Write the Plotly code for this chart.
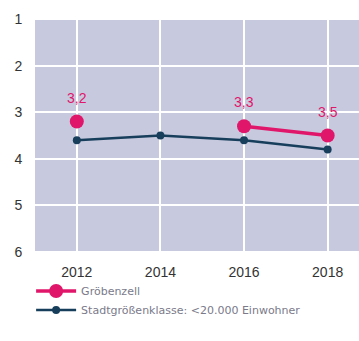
import plotly.graph_objects as go

years = [2012, 2014, 2016, 2018]
groebenzell = [3.2, None, 3.3, 3.5]
groebenzell_labels = ["3,2", "", "3,3", "3,5"]
stadt = [3.6, 3.5, 3.6, 3.8]
y_ticks = [1, 2, 3, 4, 5, 6]

pink = "#e0166a"
navy = "#173f5c"

fig = go.Figure()
fig.add_trace(go.Scatter(
    x=years, y=groebenzell, mode="lines+markers",
    name="Gröbenzell",
    line=dict(color=pink, width=3.5), marker=dict(color=pink, size=14),
    connectgaps=False,
))
fig.add_trace(go.Scatter(
    x=years, y=stadt, mode="lines+markers",
    name="Stadtgrößenklasse: <20.000 Einwohner",
    line=dict(color=navy, width=2.5), marker=dict(color=navy, size=8),
))
for x, y, t in zip(years, groebenzell, groebenzell_labels):
    if y is not None and t:
        fig.add_annotation(x=x, y=y, text=t, showarrow=False, yanchor="bottom",
                           yshift=14, font=dict(color=pink, size=14, family="Liberation Sans"))

fig.update_layout(
    width=359, height=341,
    margin=dict(l=35, r=0, t=18, b=88),
    paper_bgcolor="white", plot_bgcolor="#c7c9de",
    font=dict(family="Liberation Sans", color="#333333"),
    showlegend=True,
    legend=dict(x=-0.012, y=-0.10, xanchor="left", yanchor="top",
                font=dict(size=11, color="#7a7a8a", family="DejaVu Sans"),
                itemwidth=40),
)
fig.update_xaxes(range=[2011, 2018.75], tickvals=years, ticktext=[str(y) for y in years],
                 showgrid=True, gridcolor="white", gridwidth=1.5, zeroline=False,
                 tickfont=dict(size=14, color="#333333"),
                 ticks="outside", ticklen=6, tickcolor="rgba(0,0,0,0)")
fig.update_yaxes(range=[6.03, 0.97], tickvals=y_ticks, showgrid=True, gridcolor="white",
                 gridwidth=1.5, zeroline=False, tickfont=dict(size=14, color="#333333"),
                 ticks="outside", ticklen=9, tickcolor="rgba(0,0,0,0)")
fig.write_html("out.html")
